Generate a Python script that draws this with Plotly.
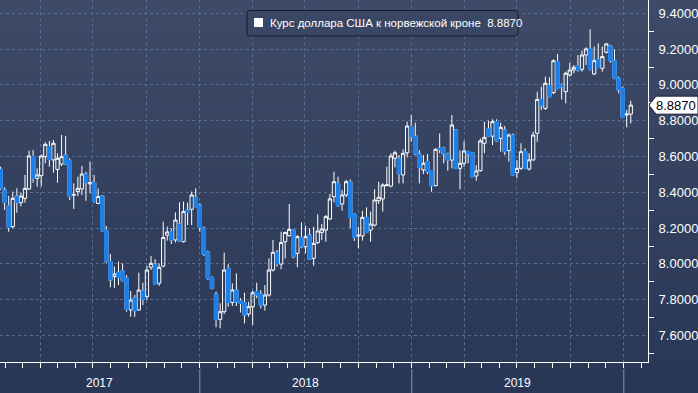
import plotly.graph_objects as go
import pandas as pd

# ---------------- data (weekly OHLC, USD/NOK) ----------------
first_week = "2017-01-23"
open_ = [8.528, 8.413, 8.324, 8.208, 8.379, 8.342, 8.366, 8.419, 8.599, 8.478,
         8.493, 8.599, 8.655, 8.581, 8.528, 8.558, 8.608, 8.577, 8.385, 8.404,
         8.419, 8.502, 8.447, 8.454, 8.338, 8.379, 8.186, 8.013, 7.929, 7.953,
         7.961, 7.919, 7.743, 7.811, 7.743, 7.849, 7.817, 7.981, 7.998, 7.892,
         7.988, 8.160, 8.180, 8.134, 8.223, 8.124, 8.301, 8.305, 8.372, 8.329,
         8.199, 8.068, 7.923, 7.832, 7.690, 7.733, 7.975, 7.784, 7.854, 7.793,
         7.785, 7.720, 7.761, 7.845, 7.832, 7.770, 7.826, 7.966, 8.065, 7.999,
         8.124, 8.158, 8.189, 8.059, 8.147, 8.096, 8.161, 8.031, 8.119, 8.176,
         8.189, 8.251, 8.376, 8.450, 8.335, 8.385, 8.459, 8.279, 8.156, 8.156,
         8.260, 8.189, 8.217, 8.353, 8.363, 8.437, 8.435, 8.590, 8.590, 8.497,
         8.621, 8.767, 8.714, 8.614, 8.525, 8.571, 8.521, 8.437, 8.646, 8.649,
         8.614, 8.580, 8.748, 8.534, 8.562, 8.627, 8.621, 8.491, 8.521, 8.674,
         8.754, 8.714, 8.795, 8.701, 8.748, 8.633, 8.720, 8.510, 8.534, 8.627,
         8.530, 8.581, 8.730, 8.919, 8.869, 8.996, 8.957, 9.130, 9.000, 8.962,
         9.055, 9.083, 9.106, 9.087, 9.167, 9.201, 9.061, 9.143, 9.093, 9.182,
         9.217, 9.135, 9.037, 8.981, 8.832, 8.837]
high = [8.543, 8.428, 8.380, 8.404, 8.422, 8.398, 8.497, 8.633, 8.636, 8.534,
        8.612, 8.679, 8.687, 8.692, 8.618, 8.720, 8.715, 8.590, 8.450, 8.487,
        8.547, 8.515, 8.571, 8.497, 8.422, 8.385, 8.212, 8.055, 7.985, 8.013,
        8.003, 7.938, 7.849, 7.826, 7.951, 7.895, 7.988, 8.044, 8.026, 8.003,
        8.236, 8.208, 8.199, 8.288, 8.344, 8.348, 8.342, 8.404, 8.422, 8.338,
        8.208, 8.074, 7.932, 7.845, 7.780, 8.063, 7.998, 7.892, 7.947, 7.808,
        7.839, 7.789, 7.851, 7.895, 7.854, 7.882, 8.031, 8.134, 8.078, 8.180,
        8.180, 8.335, 8.193, 8.161, 8.232, 8.214, 8.199, 8.208, 8.277, 8.223,
        8.273, 8.391, 8.515, 8.487, 8.413, 8.469, 8.472, 8.283, 8.208, 8.296,
        8.316, 8.292, 8.417, 8.459, 8.450, 8.543, 8.618, 8.633, 8.608, 8.640,
        8.795, 8.832, 8.789, 8.636, 8.608, 8.614, 8.525, 8.646, 8.729, 8.655,
        8.621, 8.832, 8.752, 8.633, 8.688, 8.633, 8.624, 8.552, 8.701, 8.795,
        8.800, 8.808, 8.808, 8.789, 8.770, 8.729, 8.729, 8.580, 8.674, 8.646,
        8.618, 8.739, 8.962, 8.990, 9.046, 9.042, 9.143, 9.173, 9.009, 9.074,
        9.124, 9.111, 9.167, 9.191, 9.210, 9.310, 9.214, 9.232, 9.214, 9.232,
        9.223, 9.199, 9.046, 8.990, 8.860, 8.912]
low = [8.413, 8.301, 8.180, 8.199, 8.286, 8.320, 8.342, 8.413, 8.454, 8.432,
       8.432, 8.562, 8.543, 8.510, 8.454, 8.547, 8.553, 8.357, 8.307, 8.379,
       8.385, 8.353, 8.394, 8.342, 8.333, 8.180, 8.003, 7.869, 7.864, 7.882,
       7.901, 7.733, 7.705, 7.705, 7.739, 7.770, 7.798, 7.966, 7.882, 7.877,
       7.981, 8.130, 8.111, 8.119, 8.124, 8.119, 8.217, 8.217, 8.316, 8.180,
       8.044, 7.910, 7.858, 7.646, 7.640, 7.720, 7.761, 7.765, 7.765, 7.728,
       7.668, 7.705, 7.659, 7.808, 7.752, 7.739, 7.817, 7.957, 7.985, 7.970,
       8.031, 8.152, 8.031, 7.981, 8.087, 8.059, 8.022, 7.990, 8.111, 8.134,
       8.124, 8.245, 8.344, 8.320, 8.297, 8.372, 8.199, 8.128, 8.087, 8.130,
       8.171, 8.124, 8.208, 8.335, 8.292, 8.435, 8.428, 8.539, 8.450, 8.450,
       8.595, 8.683, 8.608, 8.450, 8.502, 8.502, 8.404, 8.435, 8.618, 8.562,
       8.521, 8.534, 8.528, 8.416, 8.543, 8.562, 8.485, 8.465, 8.515, 8.618,
       8.711, 8.664, 8.683, 8.627, 8.608, 8.571, 8.497, 8.478, 8.525, 8.528,
       8.521, 8.577, 8.683, 8.860, 8.860, 8.931, 8.949, 8.975, 8.919, 8.897,
       9.046, 9.065, 9.074, 9.074, 9.111, 9.080, 9.055, 9.093, 9.074, 9.176,
       9.124, 9.031, 8.953, 8.813, 8.763, 8.785]
close = [8.422, 8.342, 8.204, 8.366, 8.342, 8.379, 8.422, 8.603, 8.478, 8.497,
         8.603, 8.668, 8.584, 8.674, 8.590, 8.599, 8.558, 8.376, 8.387, 8.422,
         8.502, 8.454, 8.454, 8.348, 8.376, 8.186, 8.013, 7.910, 7.944, 7.925,
         7.907, 7.746, 7.798, 7.739, 7.854, 7.802, 7.966, 8.003, 7.886, 7.981,
         8.148, 8.178, 8.134, 8.245, 8.128, 8.292, 8.288, 8.385, 8.320, 8.204,
         8.055, 7.919, 7.864, 7.690, 7.733, 7.966, 7.784, 7.854, 7.789, 7.780,
         7.715, 7.761, 7.839, 7.826, 7.770, 7.826, 7.966, 8.065, 8.003, 8.119,
         8.176, 8.193, 8.040, 8.152, 8.096, 8.152, 8.026, 8.115, 8.184, 8.195,
         8.264, 8.363, 8.459, 8.325, 8.385, 8.459, 8.260, 8.148, 8.160, 8.260,
         8.176, 8.223, 8.357, 8.372, 8.441, 8.441, 8.603, 8.621, 8.502, 8.618,
         8.770, 8.711, 8.614, 8.539, 8.562, 8.515, 8.437, 8.640, 8.640, 8.614,
         8.580, 8.776, 8.534, 8.562, 8.631, 8.614, 8.487, 8.519, 8.687, 8.707,
         8.714, 8.795, 8.688, 8.763, 8.627, 8.720, 8.497, 8.534, 8.627, 8.534,
         8.581, 8.720, 8.919, 8.882, 9.009, 8.934, 9.135, 8.981, 8.990, 9.065,
         9.083, 9.098, 9.083, 9.167, 9.201, 9.087, 9.135, 9.098, 9.158, 9.229,
         9.135, 9.037, 8.972, 8.819, 8.837, 8.887]

y_ticks = [7.6, 7.8, 8.0, 8.2, 8.4, 8.6, 8.8, 9.0, 9.2, 9.4]
y_minor_ticks = [7.5, 7.7, 7.9, 8.1, 8.3, 8.5, 8.7, 8.9, 9.1, 9.3]
year_labels = ["2017", "2018", "2019"]
year_separators = ["2018-01-01", "2019-01-01", "2020-01-01"]
series_name = "Курс доллара США к норвежской кроне"

dates = pd.date_range(first_week, periods=len(close), freq="7D")
last = close[-1]

# ---------------- geometry / style ----------------
W, H = 698, 393
ML, MR, MT, MB = 0, 50, 0, 31
PW, PH = W - ML - MR, H - MT - MB
X_RANGE = [pd.Timestamp("2017-01-22"), pd.Timestamp("2020-02-11 16:00")]
Y_RANGE = [7.452, 9.4743]

BLUE = "#1d7fe8"
GRID = "#5b6d8b"
FONT = "Liberation Sans"
TOP = (61, 75, 104)
BOT = (41, 55, 86)


def px_x(px):
    return (px - ML) / PW


def px_y(py):
    return 1 - (py - MT) / PH


fig = go.Figure()

fig.add_trace(go.Candlestick(
    x=dates, open=open_, high=high, low=low, close=close,
    increasing=dict(line=dict(color="white", width=1), fillcolor="rgba(0,0,0,0)"),
    decreasing=dict(line=dict(color="white", width=1), fillcolor=BLUE),
    whiskerwidth=0, showlegend=False, hoverinfo="skip",
))

# solid blue bodies for falling weeks (cover the white outline)
bear = [i for i in range(len(close)) if close[i] < open_[i]]
fig.add_trace(go.Candlestick(
    x=dates[bear],
    open=[open_[i] for i in bear], high=[open_[i] for i in bear],
    low=[close[i] for i in bear], close=[close[i] for i in bear],
    increasing=dict(line=dict(color=BLUE, width=1.2), fillcolor=BLUE),
    decreasing=dict(line=dict(color=BLUE, width=1.2), fillcolor=BLUE),
    whiskerwidth=0, showlegend=False, hoverinfo="skip",
))

# arrow-shaped major ticks on the right axis
fig.add_trace(go.Scatter(
    x=[1 + 4 / PW] * len(y_ticks), y=y_ticks, xaxis="x2", yaxis="y",
    mode="markers", marker=dict(symbol="triangle-right", size=7, color="white"),
    cliponaxis=False, showlegend=False, hoverinfo="skip",
))

shapes = []
# vertical background gradient
N = 60
for i in range(N):
    t = i / (N - 1)
    c = tuple(round(TOP[k] + (BOT[k] - TOP[k]) * t) for k in range(3))
    shapes.append(dict(
        type="rect", xref="paper", yref="paper", layer="below",
        x0=px_x(0), x1=px_x(W), y0=px_y((i + 1) * H / N + 0.5), y1=px_y(i * H / N),
        fillcolor="rgb(%d,%d,%d)" % c, line=dict(width=0),
    ))

# year separators below the axis
for d in year_separators:
    shapes.append(dict(
        type="line", xref="x", yref="paper", x0=d, x1=d,
        y0=px_y(369), y1=px_y(H), line=dict(color="#8794ab", width=1),
    ))

# legend box (rounded)
lx0, ly0, lx1, ly1, r = 247, 10.5, 518, 36, 3
path = (f"M {lx0 + r},{-ly0} L {lx1 - r},{-ly0} Q {lx1},{-ly0} {lx1},{-(ly0 + r)} "
        f"L {lx1},{-(ly1 - r)} Q {lx1},{-ly1} {lx1 - r},{-ly1} "
        f"L {lx0 + r},{-ly1} Q {lx0},{-ly1} {lx0},{-(ly1 - r)} "
        f"L {lx0},{-(ly0 + r)} Q {lx0},{-ly0} {lx0 + r},{-ly0} Z")
shapes.append(dict(
    type="path", xref="paper", yref="paper", xsizemode="pixel", ysizemode="pixel",
    xanchor=0, yanchor=1, path=path, fillcolor="rgb(57,71,100)",
    line=dict(color="#151c29", width=1), layer="above",
))
shapes.append(dict(
    type="rect", xref="paper", yref="paper",
    x0=px_x(254), x1=px_x(263), y0=px_y(27), y1=px_y(18),
    fillcolor="white", line=dict(width=0), layer="above",
))

# last value callout
shapes.append(dict(
    type="path", xref="paper", yref="y", xsizemode="pixel", ysizemode="pixel",
    xanchor=1, yanchor=last,
    path="M 1,0 L 8,9 L 50,9 L 50,-9 L 8,-9 Z",
    fillcolor="white", line=dict(color="#1a2130", width=1), layer="above",
))

annotations = [
    dict(xref="paper", yref="paper", x=px_x(268), y=px_y(22.5), xanchor="left",
         yanchor="middle", showarrow=False,
         text=f"{series_name} \u00a0{last:.4f}",
         font=dict(family=FONT, size=11.5, color="white")),
    dict(xref="paper", yref="y", x=1, y=last, xanchor="left", yanchor="middle",
         xshift=6, showarrow=False, text=f"{last:.4f}",
         font=dict(family=FONT, size=13, color="black")),
]
for lab in year_labels:
    s = max(pd.Timestamp(f"{lab}-01-01"), X_RANGE[0])
    e = min(pd.Timestamp(f"{int(lab) + 1}-01-01"), X_RANGE[1])
    annotations.append(dict(
        xref="x", yref="paper", x=s + (e - s) / 2, y=px_y(383),
        xanchor="center", yanchor="middle", showarrow=False, text=lab,
        font=dict(family=FONT, size=12, color="white"),
    ))

fig.update_layout(
    width=W, height=H, margin=dict(l=ML, r=MR, t=MT, b=MB, pad=0),
    paper_bgcolor="rgb(%d,%d,%d)" % BOT, plot_bgcolor="rgba(0,0,0,0)",
    font=dict(family=FONT, color="white"),
    showlegend=False, shapes=shapes, annotations=annotations,
    boxgap=0.1, boxgroupgap=0.1,
    xaxis=dict(
        type="date", range=X_RANGE, rangeslider=dict(visible=False),
        tick0="2017-01-01", dtick="M3", showticklabels=False,
        ticks="outside", ticklen=5, tickcolor="white",
        showgrid=True, gridcolor=GRID, griddash="3px,3px", gridwidth=1,
        showline=True, linecolor="white", linewidth=1, zeroline=False,
        minor=dict(tick0="2017-01-01", dtick="M1", ticks="outside", ticklen=5,
                   tickcolor="white", showgrid=False),
    ),
    xaxis2=dict(overlaying="x", range=[0, 1], visible=False, fixedrange=True),
    yaxis=dict(
        side="right", range=Y_RANGE, tickvals=y_ticks,
        ticktext=[f"{v:.4f}" for v in y_ticks],
        ticks="outside", ticklen=7, tickcolor="rgba(0,0,0,0)",
        tickfont=dict(family=FONT, size=13, color="white"),
        showgrid=True, gridcolor=GRID, griddash="3px,3px", gridwidth=1,
        showline=True, linecolor="white", linewidth=1, zeroline=False,
        minor=dict(tickvals=y_minor_ticks, ticks="outside", ticklen=5,
                   tickcolor="white", showgrid=False),
    ),
)

fig.write_html(
    "out.html",
    config={"displayModeBar": False},
    post_script="document.body.style.margin='0';document.body.style.padding='0';",
)
